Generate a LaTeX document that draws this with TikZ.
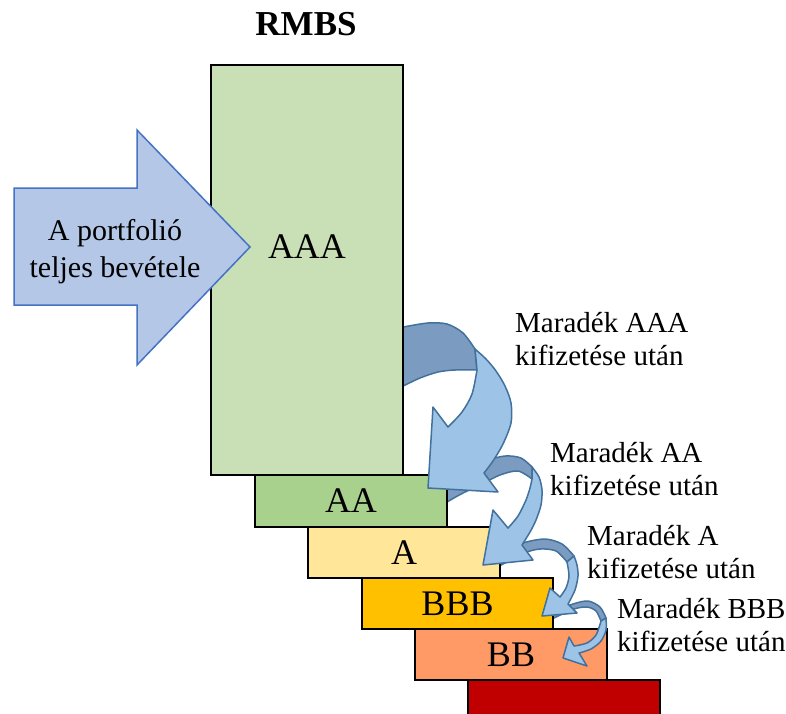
\documentclass[tikz,border=0pt]{standalone}
\usepackage{fontspec}
\setmainfont{Liberation Serif}
\definecolor{cAAA}{HTML}{C9E0B6}
\definecolor{cAA}{HTML}{A9D18E}
\definecolor{cA}{HTML}{FFE699}
\definecolor{cBBB}{HTML}{FFC000}
\definecolor{cBB}{HTML}{FF9966}
\definecolor{cB}{HTML}{C00000}
\definecolor{arrowFill}{HTML}{B4C7E7}
\definecolor{arrowEdge}{HTML}{4472C4}
\definecolor{bandDark}{HTML}{7B9CC0}
\definecolor{bandLight}{HTML}{9DC3E6}
\definecolor{bandEdge}{HTML}{41719C}
\begin{document}
\begin{tikzpicture}[x=1pt,y=-1pt,
  tranche/.style={draw=black, line width=2pt, minimum width=192pt, inner sep=0pt, outer sep=0pt,
    font=\fontsize{36}{40}\selectfont},
  boxlabel/.style={font=\fontsize{36}{40}\selectfont, inner sep=0pt},
  note/.style={font=\fontsize{29}{33.5}\selectfont, align=left, anchor=north west, inner sep=0pt},
  bandback/.style={fill=bandDark, draw=bandEdge, line width=1.5pt, line join=round},
  bandfront/.style={fill=bandLight, draw=bandEdge, line width=1.5pt, line join=round},
  bigarrow/.style={fill=arrowFill, draw=arrowEdge, line width=1.5pt, line join=miter}
]
\useasboundingbox (0,0) rectangle (786,713);
\clip (0,0) rectangle (786,713);

% back faces of the curved arrows (behind the tranches)
\draw[bandback] plot[smooth] coordinates {(395,328) (403,327) (428,323) (447,324) (463,333) (475,349)}
  -- (477,370) -- plot[smooth] coordinates {(477,370) (455,370) (438,372) (420,378) (403,386) (395,389)} -- cycle;
\draw[bandback] plot[smooth] coordinates {(438,492) (447,485) (465,470) (485,461) (505,456) (521,458) (532,467)}
  -- (532,479) -- plot[smooth] coordinates {(532,479) (518,471) (500,475) (480,485) (463,493) (447,502) (438,508)} -- cycle;
\draw[bandback] plot[smooth] coordinates {(495,558) (505,552) (523,543) (545,539) (562,544) (574,556)}
  -- (567,562) -- plot[smooth] coordinates {(567,562) (556,551) (540,549) (524,553) (505,563) (495,568)} -- cycle;
\draw[bandback] plot[smooth] coordinates {(548,615) (556,611) (573,604) (588,601) (600,607) (606,618)}
  -- (601,621) -- plot[smooth] coordinates {(601,621) (596,611) (587,607) (574,609) (556,617) (548,621)} -- cycle;

% tranches
\node[tranche, fill=cAAA, minimum height=410pt] (aaa) at (307,270) {};
\node[tranche, fill=cAA, minimum height=52pt] (aa) at (351,501) {AA};
\node[tranche, fill=cA, minimum height=51pt] (a) at (404,552.5) {A};
\node[tranche, fill=cBBB, minimum height=51pt, minimum width=191pt] (bbb) at (457.5,603.5) {BBB};
\node[tranche, fill=cBB, minimum height=51pt] (bb) at (511,654.5) {BB};
\node[tranche, fill=cB, minimum height=51pt] (b) at (564,705.5) {};
\node[boxlabel] (aaalabel) at (307,247) {AAA};

% title
\node[font=\fontsize{35}{40}\selectfont\bfseries, inner sep=0pt] (title) at (306,24) {RMBS};

% income arrow
\draw[bigarrow] (14,188) -- (137,188) -- (137,130) -- (250,247) -- (137,365) -- (137,305) -- (14,305) -- cycle;
\node[font=\fontsize{30}{37}\selectfont, align=center, anchor=north, inner sep=0pt] (income) at (115,219) {A portfolió\\teljes bevétele};

% front faces of the curved arrows
\draw[bandfront] plot[smooth] coordinates {(606,618) (606,630) (601,641) (591,649) (579,653)}
  -- (587,666) -- (563,658) -- (569,637) -- (574,646)
  -- plot[smooth] coordinates {(574,646) (587,643) (596,635) (601,621)} -- cycle;
\draw[bandfront] plot[smooth] coordinates {(574,556) (577,565) (578,576) (575,590) (568,604)}
  -- (577,613) -- (542,616) -- (550,588) -- (560,597)
  -- plot[smooth] coordinates {(560,597) (566,588) (569,576) (567,562)} -- cycle;
\draw[bandfront] plot[smooth] coordinates {(532,467) (539,477) (542,490) (541,505) (536,520) (530,532) (522,545)}
  -- (533,560) -- (483,565) -- (493,510) -- (508,528)
  -- plot[smooth] coordinates {(508,528) (518,516) (526,500) (530,488) (532,479)} -- cycle;
\draw[bandfront] plot[smooth] coordinates {(475,349) (486,359) (496,371) (505,386) (511,403) (511,423) (503,444) (493,461) (484,473)}
  -- (498,492) -- (428,488) -- (433,407) -- (448,427)
  -- plot[smooth] coordinates {(448,427) (462,412) (472,394) (477,370)} -- cycle;

% notes
\node[note] (l1) at (515,312) {Maradék AAA\\kifizetése után};
\node[note] (l2) at (550,442) {Maradék AA\\kifizetése után};
\node[note] (l3) at (587,525) {Maradék A\\kifizetése után};
\node[note] (l4) at (617,598) {Maradék BBB\\kifizetése után};
\end{tikzpicture}
\end{document}
